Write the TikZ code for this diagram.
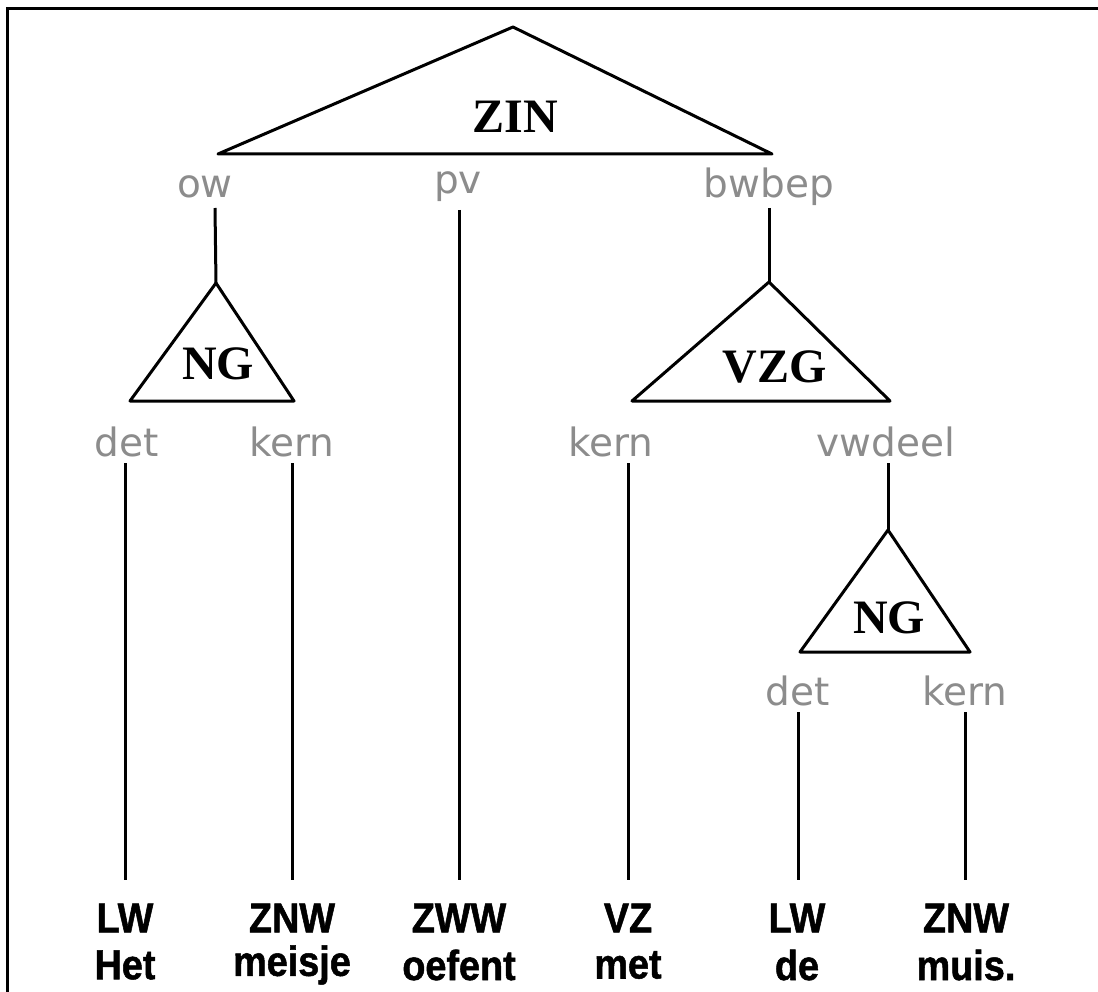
\documentclass[tikz,border=0pt]{standalone}
\usepackage{fontspec}
\setmainfont{Liberation Serif}
\newfontfamily\grayf{DejaVu Sans}
\newfontfamily\posf[FakeStretch=0.9,FakeBold=1.2]{Liberation Sans}
\begin{document}
\begin{tikzpicture}[x=1pt,y=-1pt,
  frame/.style={line width=3pt},
  tri/.style={line width=3pt,line join=round},
  branch/.style={line width=3pt},
  cat/.style={inner sep=0pt,font=\fontsize{48}{48}\selectfont\bfseries},
  func/.style={inner sep=0pt,text=black!45,font=\grayf\fontsize{39}{39}\selectfont},
  poslbl/.style={inner sep=0pt,font=\posf\fontsize{42}{42}\selectfont\bfseries},
  word/.style={inner sep=0pt,font=\posf\fontsize{42}{42}\selectfont\bfseries}]
\useasboundingbox (0,0) rectangle (1098,992);
\fill[white] (0,0) rectangle (1098,992);
\draw[frame] (7,992) -- (7,9) -- (1098,9);
% triangles
\coordinate (zinA) at (513,27);
\coordinate (ng1A) at (216,283);
\coordinate (vzgA) at (769,282);
\coordinate (ng2A) at (888,530);
\draw[tri] (zinA) -- (218,154) -- (772,154) -- cycle;
\draw[tri] (ng1A) -- (130,401) -- (294,401) -- cycle;
\draw[tri] (vzgA) -- (632,401) -- (890,401) -- cycle;
\draw[tri] (ng2A) -- (800,652) -- (970,652) -- cycle;
\node[cat] (zin) at (515,117) {ZIN};
\node[cat] (ng1) at (218,364) {NG};
\node[cat] (vzg) at (775,367) {VZG};
\node[cat] (ng2) at (889,618) {NG};
% function labels
\node[func] (ow) at (205,187) {ow};
\node[func] (pv) at (458,187) {pv};
\node[func] (bwbep) at (769,187) {bwbep};
\node[func] (det1) at (127,442) {det};
\node[func] (kern1) at (292,442) {kern};
\node[func] (kern2) at (611,442) {kern};
\node[func] (vwdeel) at (886,442) {vwdeel};
\node[func] (det2) at (798,691) {det};
\node[func] (kern3) at (965,691) {kern};
% POS labels and words
\node[poslbl] (p1) at (125,918) {LW};
\node[poslbl] (p2) at (292,918) {ZNW};
\node[poslbl] (p3) at (459,918) {ZWW};
\node[poslbl] (p4) at (628,918) {VZ};
\node[poslbl] (p5) at (797,918) {LW};
\node[poslbl] (p6) at (966,918) {ZNW};
\node[word] (w1) at (125,965) {Het};
\node[word] (w2) at (292,965) {meisje};
\node[word] (w3) at (459,965) {oefent};
\node[word] (w4) at (628,965) {met};
\node[word] (w5) at (797,965) {de};
\node[word] (w6) at (966,965) {muis.};
% branch line ends
\coordinate (owT) at (215,208);
\coordinate (pvT) at (459,210);
\coordinate (bwT) at (769,208);
\coordinate (d1T) at (125,463);
\coordinate (k1T) at (292,463);
\coordinate (k2T) at (628,463);
\coordinate (vwT) at (888,463);
\coordinate (d2T) at (798,712);
\coordinate (k3T) at (965,712);
\coordinate (p1T) at (125,880);
\coordinate (p2T) at (292,880);
\coordinate (p3T) at (459,880);
\coordinate (p4T) at (628,880);
\coordinate (p5T) at (798,880);
\coordinate (p6T) at (965,880);
\draw[branch] (owT) -- (ng1A);
\draw[branch] (bwT) -- (vzgA);
\draw[branch] (vwT) -- (ng2A);
\draw[branch] (pvT) -- (p3T);
\draw[branch] (d1T) -- (p1T);
\draw[branch] (k1T) -- (p2T);
\draw[branch] (k2T) -- (p4T);
\draw[branch] (d2T) -- (p5T);
\draw[branch] (k3T) -- (p6T);
\end{tikzpicture}
\end{document}
